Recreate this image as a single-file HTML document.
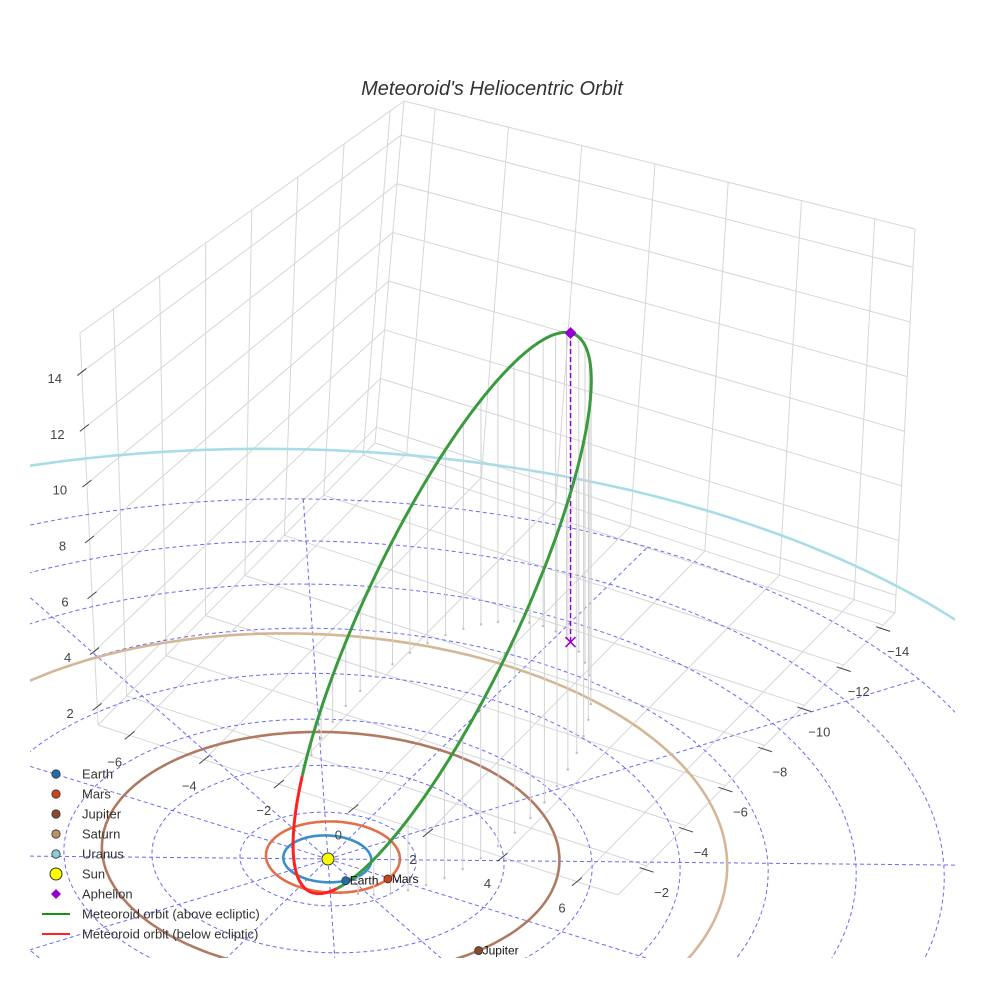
<!DOCTYPE html>
<html><head><meta charset="utf-8"><title>Meteoroid's Heliocentric Orbit</title>
<style>
html,body{margin:0;padding:0;background:#fff;overflow:hidden;width:984px;height:984px;}
svg{display:block;font-family:"Liberation Sans",sans-serif;}
</style></head>
<body>
<svg id="chart" width="984" height="984" viewBox="0 0 984 984" xmlns="http://www.w3.org/2000/svg">
<defs><clipPath id="sceneClip"><rect x="30" y="0" width="925" height="958"/></clipPath></defs>
<rect x="0" y="0" width="984" height="984" fill="#fff"/>
<text x="492" y="95" text-anchor="middle" font-size="20" font-style="italic" fill="#333">Meteoroid's Heliocentric Orbit</text>
<g id="scene" clip-path="url(#sceneClip)"></g>
<g id="axes"></g>
<g id="legend"></g>
</svg>
<script>
// ---- data ----
const planetNames = ["Earth","Mars","Jupiter","Saturn","Uranus"];
const planetSemiMajor = [1.0, 1.524, 5.203, 9.537, 19.19];
const planetEcc = [0.0167, 0.0934, 0.0484, 0.0539, 0.0473];
const planetPeriLonDeg = [103, 336, 14, 93, 173];
const planetAnglesDeg = [51.9, 88.2, 70.5, 60, 60];
const planetColors = ["#1f6fae","#cc4418","#8b4a2b","#b8906a","#88ccd8"];
const orbitColors = ["#3a8fc8","#e0704a","#b07a62","#d4b796","#a8dde6"];
const aphelionXYZ = [-11.19, 0.40, 11.2];
const perihelionDist = [1.0];
const minorAxisDir = [0.491, 0.737, 0.465];
const xTicks = [-14,-12,-10,-8,-6,-4,-2];
const yTicks = [-6,-4,-2,0,2,4,6];
const zTicks = [2,4,6,8,10,12,14];
const polarRadii = [2,4,6,8,10,12,14,16];
const polarSpokesDeg = [0,30,60,90,120,150,180,210,240,270,300,330];
const xRange = [-14.6,-0.55], yRange = [-6.85,7.1], zRange = [1.35,15.4];

const NS = "http://www.w3.org/2000/svg";
const scene = document.getElementById('scene');
const axes = document.getElementById('axes');
const legend = document.getElementById('legend');
function mk(tag, attrs, parent){const e=document.createElementNS(NS,tag);for(const k in attrs)e.setAttribute(k,attrs[k]);parent.appendChild(e);return e;}

const SUN=[328,859], EX=[-20.6,20.1], EY=[38.9,12.1], ZS=28;
function P(x,y,z){
  const wx=x*EX[0]+y*EY[0], wy=x*EX[1]+y*EY[1];
  const d=Math.max(-wy,0); const f=1/(1+3e-7*d*d);
  return [SUN[0]+f*wx, SUN[1]+f*(wy-ZS*z)];
}
const C0={b:[375,443],l:[98,725],r:[895,613],f:[618,895]};
const C1={b:[404,101],l:[80,333],r:[915,229],f:[591,461]};
function B(x,y,z){
  const u=(x-xRange[0])/(xRange[1]-xRange[0]), v=(y-yRange[0])/(yRange[1]-yRange[0]), w=(z-zRange[0])/(zRange[1]-zRange[0]);
  function quad(C){return [0,1].map(i=>(1-u)*(1-v)*C.b[i]+u*(1-v)*C.l[i]+(1-u)*v*C.r[i]+u*v*C.f[i]);}
  const a=quad(C0), c=quad(C1);
  return [a[0]+(c[0]-a[0])*w, a[1]+(c[1]-a[1])*w];
}
function cl(v,lo,hi){return Math.min(hi,Math.max(lo,v));}
function pts(arr){return arr.map(p=>cl(p[0],10,974).toFixed(1)+","+cl(p[1],10,974).toFixed(1)).join(" ");}

// ---- box grid ----
const grid = mk('g',{},scene);


function gl(p,q){mk('line',{x1:p[0],y1:p[1],x2:q[0],y2:q[1],stroke:'#d6d6d6','stroke-width':1},grid);}
const [x0,x1]=xRange,[y0,y1]=yRange,[z0,z1]=zRange;
xTicks.forEach(t=>{gl(B(t,y0,z0),B(t,y1,z0));gl(B(t,y0,z0),B(t,y0,z1));});
yTicks.forEach(t=>{gl(B(x0,t,z0),B(x1,t,z0));gl(B(x0,t,z0),B(x0,t,z1));});
zTicks.forEach(t=>{gl(B(x0,y0,t),B(x1,y0,t));gl(B(x0,y0,t),B(x0,y1,t));});
[[B(x0,y0,z0),B(x1,y0,z0)],[B(x0,y0,z0),B(x0,y1,z0)],[B(x1,y0,z0),B(x1,y1,z0)],[B(x0,y1,z0),B(x1,y1,z0)],
 [B(x0,y0,z0),B(x0,y0,z1)],[B(x1,y0,z0),B(x1,y0,z1)],[B(x0,y1,z0),B(x0,y1,z1)],
 [B(x0,y0,z1),B(x1,y0,z1)],[B(x0,y0,z1),B(x0,y1,z1)]].forEach(s=>gl(s[0],s[1]));

// ---- polar ecliptic grid ----
const polar = mk('g',{fill:'none',stroke:'#6b6bef','stroke-width':1,'stroke-dasharray':'4,3'},scene);


polarRadii.forEach(r=>{
  const a=[];for(let i=0;i<=240;i++){const t=i/240*2*Math.PI;a.push(P(r*Math.cos(t),r*Math.sin(t),0));}
  const e=mk('polyline',{points:pts(a)},polar);
  
  
});
const rMax=polarRadii[polarRadii.length-1];
polarSpokesDeg.forEach(dg=>{
  const t=dg*Math.PI/180;const a=[];for(let i=0;i<=40;i++){const r=rMax*i/40;a.push(P(r*Math.cos(t),r*Math.sin(t),0));}
  const e=mk('polyline',{points:pts(a)},polar);
  
  
});

// ---- planet orbits ----
function planetR(k,th){const a=planetSemiMajor[k],e=planetEcc[k],w=planetPeriLonDeg[k]*Math.PI/180;return a*(1-e*e)/(1+e*Math.cos(th-w));}
planetSemiMajor.forEach((_,k)=>{
  const a=[];for(let i=0;i<=360;i++){const t=i/360*2*Math.PI;const r=planetR(k,t);a.push(P(r*Math.cos(t),r*Math.sin(t),0));}
  const e=mk('polyline',{points:pts(a),fill:'none',stroke:orbitColors[k],'stroke-width':2.6},scene);
  
  
});

// ---- meteoroid orbit ----
const A=aphelionXYZ, Q=perihelionDist[0];
const Rap=Math.hypot(A[0],A[1],A[2]);
const U=A.map(c=>c/Rap);
const vn=Math.hypot(...minorAxisDir), V=minorAxisDir.map(c=>c/vn);
const sa=(Rap+Q)/2, sc=sa-Q, sb=Math.sqrt(sa*sa-sc*sc);
const orb=[];
for(let i=0;i<=720;i++){const E=i/720*2*Math.PI;
  orb.push([0,1,2].map(j=>U[j]*sc+sa*Math.cos(E)*U[j]+sb*Math.sin(E)*V[j]));}
const drop=mk('g',{},scene);


orb.forEach((p,i)=>{ if(i%14===0 && p[2]>0.3){
  const s=P(p[0],p[1],p[2]), g=P(p[0],p[1],0);
  const l=mk('line',{x1:s[0],y1:s[1],x2:g[0],y2:g[1],stroke:'#d2d2d2','stroke-width':1},drop);
  
  
  const d=mk('circle',{cx:g[0],cy:g[1],r:1.2,fill:'#bdbdbd'},drop);
  
  
}});
const Ap=P(A[0],A[1],A[2]), Ag=P(A[0],A[1],0);
const adl=mk('line',{x1:Ap[0],y1:Ap[1],x2:Ag[0],y2:Ag[1],stroke:'#9400d3','stroke-width':1.5,'stroke-dasharray':'5,3'},scene);


let seg=[], sign=null;
function flush(){ if(seg.length>1){
  const e=mk('polyline',{points:pts(seg),fill:'none',stroke:sign?'#3a9a3e':'#ff2020','stroke-width':3,'stroke-linejoin':'round'},scene);
  
  
}}
orb.forEach(p=>{const s=p[2]>=0; if(sign!==null && s!==sign){const last=seg[seg.length-1];flush();seg=[last];} sign=s; seg.push(P(p[0],p[1],p[2]));});
flush();
const dm=mk('path',{d:`M${Ap[0]},${Ap[1]-6} L${Ap[0]+6},${Ap[1]} L${Ap[0]},${Ap[1]+6} L${Ap[0]-6},${Ap[1]} Z`,fill:'#9400d3'},scene);


const xm=mk('path',{d:`M${Ag[0]-5},${Ag[1]-5} L${Ag[0]+5},${Ag[1]+5} M${Ag[0]+5},${Ag[1]-5} L${Ag[0]-5},${Ag[1]+5}`,stroke:'#9400d3','stroke-width':1.5},scene);



// ---- sun & planets ----
const sunP=P(0,0,0);
const sun=mk('circle',{cx:sunP[0],cy:sunP[1],r:6,fill:'#ffff00',stroke:'#333','stroke-width':1},scene);


planetSemiMajor.forEach((_,k)=>{
  const t=planetAnglesDeg[k]*Math.PI/180, r=planetR(k,t), p=P(r*Math.cos(t),r*Math.sin(t),0);
  if(p[1]>975||p[0]>975||p[0]<10) return;
  const c=mk('circle',{cx:p[0],cy:p[1],r:4,fill:planetColors[k],stroke:'#333','stroke-width':0.8},scene);
  
  
  const tx=mk('text',{x:p[0]+4,y:p[1]+4,'font-size':12,fill:'#111'},scene);
  tx.textContent=planetNames[k];
  
  
});

// ---- ticks & labels ----
function tick(c,h){mk('line',{x1:c[0]-h[0],y1:c[1]-h[1],x2:c[0]+h[0],y2:c[1]+h[1],stroke:'#444','stroke-width':1},axes);}
function lab(p,txt,name){const t=mk('text',{x:p[0],y:p[1]+4,'text-anchor':'middle','font-size':13,fill:'#444'},axes);t.textContent=txt;
  
  }
function fmt(v){return v<0?'\u2212'+(-v):''+v;}
xTicks.forEach(t=>{const p=B(t,y1,z0);tick([p[0],p[1]+4],[7,2.3]);lab([p[0]+15,p[1]+27],fmt(t),'x-tick-label');});
yTicks.forEach(t=>{const p=B(x1,t,z0);tick(p,[5,-4]);lab([p[0]-15,p[1]+27],fmt(t),'y-tick-label');});
zTicks.forEach(t=>{const p=B(x1,y0,t);tick(p,[4.5,-3.5]);lab([p[0]-27,p[1]+7],fmt(t),'z-tick-label');});

// ---- legend ----
const legItems=[["Earth","dot",planetColors[0]],["Mars","dot",planetColors[1]],["Jupiter","dot",planetColors[2]],["Saturn","dot",planetColors[3]],["Uranus","dot",planetColors[4]],["Sun","sun","#ffff00"],["Aphelion","diamond","#9400d3"],["Meteoroid orbit (above ecliptic)","line","#1a8f1a"],["Meteoroid orbit (below ecliptic)","line","#ff2020"]];
legItems.forEach((it,i)=>{
  const y=774+i*20;
  const g=mk('g',{},legend);
  
  
  if(it[1]==='dot') mk('circle',{cx:56,cy:y,r:4.2,fill:it[2],stroke:'#333','stroke-width':0.8},g);
  else if(it[1]==='sun') mk('circle',{cx:56,cy:y,r:6,fill:it[2],stroke:'#333','stroke-width':1},g);
  else if(it[1]==='diamond') mk('path',{d:`M56,${y-5} L61,${y} L56,${y+5} L51,${y} Z`,fill:it[2]},g);
  else mk('line',{x1:42,y1:y,x2:70,y2:y,stroke:it[2],'stroke-width':2},g);
  const t=mk('text',{x:82,y:y+4.5,'font-size':13,fill:'#333'},g);t.textContent=it[0];
});
</script>
</body></html>
